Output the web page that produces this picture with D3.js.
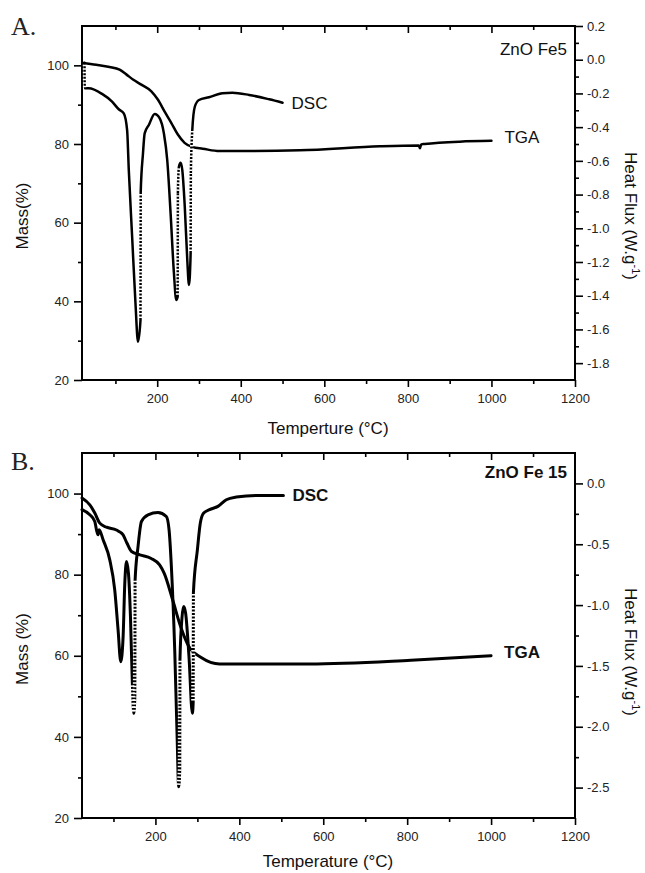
<!DOCTYPE html>
<html><head><meta charset="utf-8">
<script src="https://cdn.jsdelivr.net/npm/d3@7"></script>
<style>body{margin:0;background:#fff}svg{display:block}</style>
</head><body>
<script>
// ---------- DATA ----------
const tempTicks = [200, 400, 600, 800, 1000, 1200];
const tempMinor = [100, 300, 500, 700, 900, 1100];
const massTicks = [20, 40, 60, 80, 100];
const massMinor = [30, 50, 70, 90];
const fluxTicksA = [0.2, 0.0, -0.2, -0.4, -0.6, -0.8, -1.0, -1.2, -1.4, -1.6, -1.8];
const fluxMinorA = [0.1, -0.1, -0.3, -0.5, -0.7, -0.9, -1.1, -1.3, -1.5, -1.7];
const fluxTicksB = [0.0, -0.5, -1.0, -1.5, -2.0, -2.5];
const fluxMinorB = [-0.25, -0.75, -1.25, -1.75, -2.25];

// Panel A : ZnO Fe5
const tgaA_T    = [21.8, 54, 86, 110, 126, 142, 162, 186, 201.5, 217.5, 233.6, 249.4, 265.5, 285, 309, 349, 541, 733, 826, 829, 832, 840, 924, 1000];
const tgaA_mass = [100.6, 100.15, 99.6, 98.9, 97.7, 96.4, 95.1, 93.4, 91.3, 88.3, 85.4, 82.4, 80.3, 79.2, 78.8, 78.2, 78.4, 79.4, 79.6, 78.9, 79.9, 80.0, 80.6, 80.8];
const dscA_T    = [26, 26.5, 36, 68, 92, 108, 120, 128, 132, 140, 148, 154, 160, 160.5, 166, 170, 180, 194, 206, 216, 224, 232, 240, 245.5, 249, 249.5, 252, 256, 260, 266, 272, 276, 280, 280.5, 284, 290, 300, 324, 356, 380, 420, 468, 500];
const dscA_flux = [-0.018, -0.170, -0.170, -0.203, -0.249, -0.294, -0.318, -0.417, -0.654, -1.05, -1.445, -1.673, -1.544, -0.79, -0.555, -0.437, -0.387, -0.322, -0.348, -0.437, -0.595, -0.909, -1.265, -1.425, -1.406, -0.79, -0.635, -0.611, -0.654, -0.872, -1.188, -1.336, -1.147, -0.672, -0.417, -0.279, -0.239, -0.223, -0.199, -0.196, -0.209, -0.235, -0.255];

// Panel B : ZnO Fe 15
const tgaB_T    = [25, 43.6, 55.5, 67.4, 83.3, 107, 123, 132, 143, 163, 190, 210, 221, 241, 260, 280, 309, 353, 567, 809, 1000];
const tgaB_mass = [98.9, 97.2, 95.2, 92.7, 91.7, 91.0, 89.8, 87.8, 85.7, 84.9, 84.0, 82.4, 80.3, 73.8, 67.2, 62.2, 59.6, 58.0, 58.0, 58.9, 60.0];
const dscB_T    = [25, 43.6, 55.5, 59.5, 63.4, 65.8, 75.3, 91.2, 103, 111, 117.4, 123, 127, 131, 135.7, 140.5, 145, 148.3, 151, 151.5, 158.6, 166.7, 182.4, 206, 226, 232.5, 238, 246, 251.5, 255.5, 258, 258.5, 263.4, 267.4, 272, 280, 288, 290, 290.5, 300, 307, 315, 329, 349, 369, 393, 440, 505];
const dscB_flux = [-0.216, -0.258, -0.313, -0.381, -0.422, -0.381, -0.463, -0.628, -0.875, -1.204, -1.465, -1.259, -0.82, -0.642, -0.737, -1.095, -1.643, -1.89, -1.75, -0.80, -0.518, -0.313, -0.258, -0.239, -0.272, -0.381, -0.683, -1.369, -2.054, -2.494, -2.35, -1.45, -1.10, -1.012, -1.067, -1.424, -1.89, -1.80, -0.90, -0.546, -0.326, -0.244, -0.216, -0.189, -0.134, -0.112, -0.099, -0.099];

// ---------- DRAW ----------
const W = 645, H = 873;
const svg = d3.select("body").append("svg").attr("width", W).attr("height", H);
svg.append("rect").attr("width", W).attr("height", H).attr("fill", "#fff");
const SANS = "'Liberation Sans', Arial, sans-serif";
const SERIF = "'Liberation Serif', 'Times New Roman', serif";
const fmt1 = d => d.toFixed(1);

function panel(c) {
  const g = svg.append("g");
  const x = d3.scaleLinear().domain(c.xDom).range([82, 575]);
  const yM = d3.scaleLinear().domain([20, 110]).range([c.bottom, c.top]);
  const yF = d3.scaleLinear().domain(c.fluxDom).range([c.bottom, c.top]);

  function styleAxis(sel) {
    sel.select(".domain").remove();
    sel.selectAll("line").attr("stroke", "#000").attr("stroke-width", 1.6);
    sel.selectAll("text").attr("font-family", SANS).attr("font-size", 13).attr("fill", "#222");
  }
  g.append("g").attr("transform", `translate(82,0)`)
    .call(d3.axisLeft(yM).tickValues(massTicks).tickSize(8).tickPadding(5).tickFormat(d3.format("d"))).call(styleAxis);
  g.append("g").attr("transform", `translate(82,0)`)
    .call(d3.axisLeft(yM).tickValues(massMinor).tickSize(4).tickFormat("")).call(styleAxis);
  g.append("g").attr("transform", `translate(0,${c.bottom})`)
    .call(d3.axisBottom(x).tickValues(tempTicks).tickSize(7).tickPadding(7).tickFormat(d3.format("d"))).call(styleAxis);
  g.append("g").attr("transform", `translate(0,${c.bottom})`)
    .call(d3.axisBottom(x).tickValues(tempMinor).tickSize(4).tickFormat("")).call(styleAxis);
  g.append("g").attr("transform", `translate(0,${c.top})`)
    .call(d3.axisTop(x).tickValues(tempTicks.slice(0, 5)).tickSize(-7).tickFormat("")).call(styleAxis);
  g.append("g").attr("transform", `translate(0,${c.top})`)
    .call(d3.axisTop(x).tickValues(tempMinor).tickSize(-4).tickFormat("")).call(styleAxis);
  g.append("g").attr("transform", `translate(575,0)`)
    .call(d3.axisRight(yF).tickValues(c.fluxTicks).tickSize(8).tickPadding(4).tickFormat(fmt1)).call(styleAxis);
  g.append("g").attr("transform", `translate(575,0)`)
    .call(d3.axisRight(yF).tickValues(c.fluxMinor).tickSize(4).tickFormat("")).call(styleAxis);

  g.append("rect").attr("x", 82).attr("y", c.top).attr("width", 575 - 82).attr("height", c.bottom - c.top)
    .attr("fill", "none").attr("stroke", "#000").attr("stroke-width", 2);

  const tga = c.tgaT.map((t, i) => [x(t), yM(c.tgaM[i])]);
  const dsc = c.dscT.map((t, i) => [x(t), yF(c.dscV[i])]);
  const line = d3.line().curve(d3.curveMonotoneX);
  [tga, dsc].forEach(pts => {
    g.append("path").attr("d", line(pts)).attr("fill", "none").attr("stroke", "#000")
      .attr("stroke-width", c.lw).attr("stroke-linejoin", "round").attr("stroke-linecap", "round");
  });
  for (let i = 0; i < dsc.length - 1; i++) {
    const a = dsc[i], b = dsc[i + 1];
    if (Math.abs(b[0] - a[0]) < 1.5 && Math.abs(b[1] - a[1]) > 15) {
      g.append("line").attr("x1", a[0]).attr("y1", a[1] + (b[1] > a[1] ? 2 : -2))
        .attr("x2", b[0]).attr("y2", b[1]).attr("stroke", "#fff")
        .attr("stroke-width", c.lw + 1).attr("stroke-dasharray", "1.5,2");
    }
  }

  const fw = c.bold ? "bold" : "normal";
  const dEnd = dsc[dsc.length - 1], tEnd = tga[tga.length - 1];
  g.append("text").attr("x", dEnd[0] + 9).attr("y", dEnd[1] + 6).text("DSC")
    .attr("font-family", SANS).attr("font-size", 17).attr("font-weight", fw).attr("fill", "#111");
  g.append("text").attr("x", tEnd[0] + 13).attr("y", tEnd[1] + 2).text("TGA")
    .attr("font-family", SANS).attr("font-size", 17).attr("font-weight", fw).attr("fill", "#111");
  g.append("text").attr("x", 567).attr("y", c.top + c.sampleDy).attr("text-anchor", "end").text(c.sample)
    .attr("font-family", SANS).attr("font-size", 17).attr("font-weight", fw).attr("fill", "#111");

  g.append("text").attr("x", 11).attr("y", c.letterY).text(c.letter)
    .attr("font-family", SERIF).attr("font-size", 26).attr("fill", "#222");

  g.append("text").attr("x", 328).attr("y", c.xTitleY).attr("text-anchor", "middle").text(c.xTitle)
    .attr("font-family", SANS).attr("font-size", 17).attr("fill", "#111");
  g.append("text").attr("transform", `translate(28,${c.massTitleY}) rotate(-90)`).attr("text-anchor", "middle")
    .text(c.massTitle).attr("font-family", SANS).attr("font-size", 17).attr("fill", "#111");
  const ht = g.append("text").attr("transform", `translate(625,${c.heatTitleY}) rotate(90)`).attr("text-anchor", "middle")
    .attr("font-family", SANS).attr("font-size", 17).attr("fill", "#111");
  ht.append("tspan").text("Heat Flux (W.g");
  ht.append("tspan").text("-1").attr("font-size", 11).attr("dy", -7);
  ht.append("tspan").text(")").attr("dy", 7);
}

panel({
  top: 26, bottom: 380, xDom: [20, 1200], fluxDom: [-1.9, 0.2],
  fluxTicks: fluxTicksA, fluxMinor: fluxMinorA,
  tgaT: tgaA_T, tgaM: tgaA_mass, dscT: dscA_T, dscV: dscA_flux,
  lw: 2.5, bold: false, sample: "ZnO Fe5", sampleDy: 29, letter: "A.", letterY: 35,
  xTitle: "Temperture (\u00B0C)", xTitleY: 434, massTitle: "Mass(%)", massTitleY: 216, heatTitleY: 216
});
panel({
  top: 453, bottom: 818, xDom: [25, 1200], fluxDom: [-2.75, 0.25],
  fluxTicks: fluxTicksB, fluxMinor: fluxMinorB,
  tgaT: tgaB_T, tgaM: tgaB_mass, dscT: dscB_T, dscV: dscB_flux,
  lw: 3, bold: true, sample: "ZnO Fe 15", sampleDy: 25, letter: "B.", letterY: 470,
  xTitle: "Temperature (\u00B0C)", xTitleY: 867, massTitle: "Mass (%)", massTitleY: 649, heatTitleY: 652
});
</script>
</body></html>
